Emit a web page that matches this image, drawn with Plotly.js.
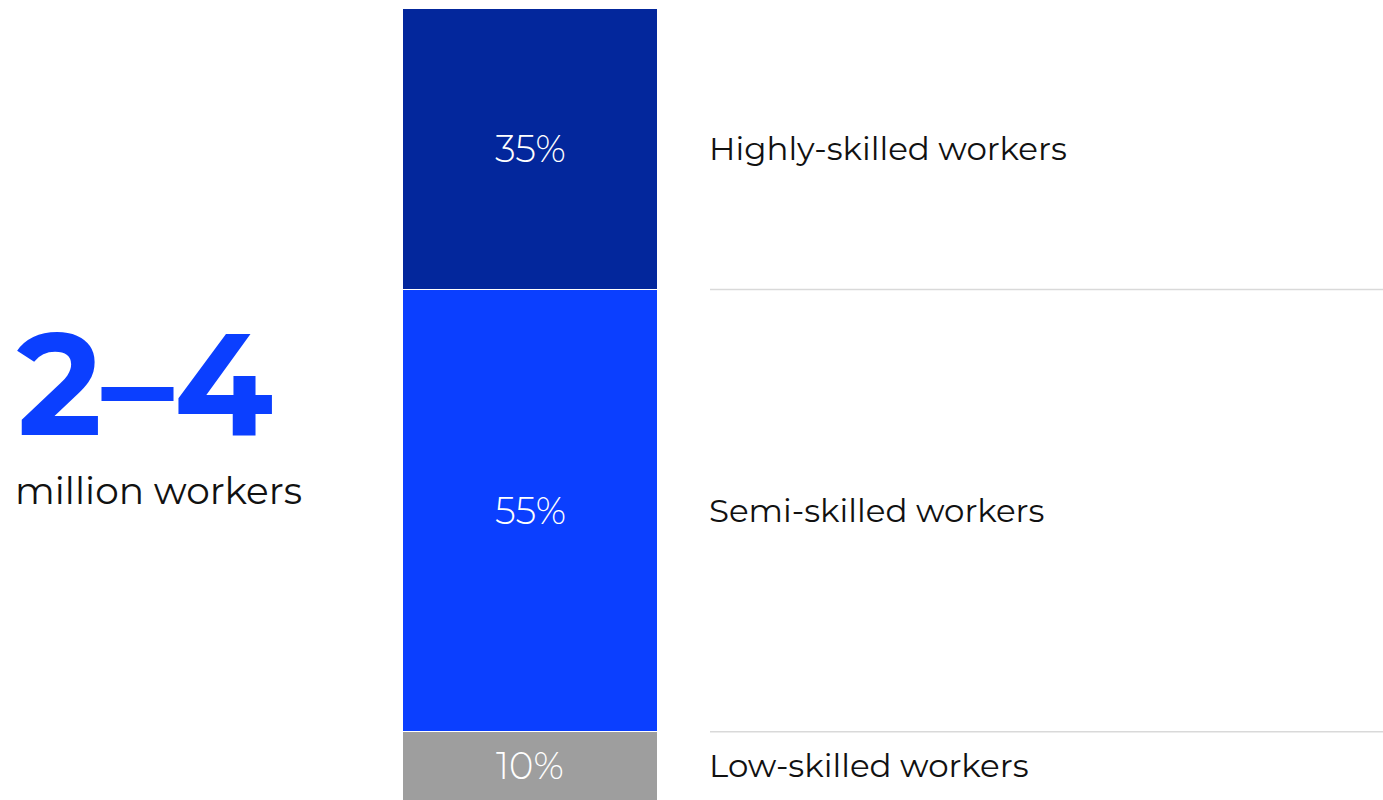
<!DOCTYPE html>
<html>
<head>
<meta charset="utf-8">
<script src="https://cdn.plot.ly/plotly-3.0.1.min.js"></script>
<style>html,body{margin:0;padding:0;background:#fff;overflow:hidden}</style>
</head>
<body>
<div id="chart" style="width:1383px;height:800px"></div>
<script>
// Data (bottom to top)
const categories = ["Low-skilled workers", "Semi-skilled workers", "Highly-skilled workers"];
const shares = [10, 55, 35];
const shareLabels = ["10%", "55%", "35%"];
const colors = ["#9e9e9e", "#0b3fff", "#03279c"];
const headline = "2–4";
const headlineSub = "million workers";

const W = 1383, H = 800;
const barLeft = 402, barRight = 658, plotTop = 8;
const yMin = 1.5, yMax = 100;
const FONT = "Montserrat, 'Open Sans', 'Noto Sans', sans-serif";

const px = p => (p - barLeft) / (barRight - barLeft);
const py = p => (H - p) / (H - plotTop);

const traces = categories.map((c, i) => ({
  type: "bar",
  x: ["all"],
  y: [shares[i]],
  name: c,
  marker: { color: colors[i], line: { color: "#ffffff", width: 1.2 } },
  hoverinfo: "skip",
  showlegend: false
}));

const annotations = [];
const shapes = [];
let base = 0;
shares.forEach((v, i) => {
  const lo = Math.max(base, yMin), hi = Math.min(base + v, yMax);
  const mid = (lo + hi) / 2;
  annotations.push({
    xref: "paper", yref: "y", x: 0.5, y: mid, xanchor: "center", yanchor: "middle",
    text: shareLabels[i], showarrow: false,
    font: { family: FONT, size: 37, color: "#ffffff", weight: 300 }
  });
  annotations.push({
    xref: "paper", yref: "y", x: px(707), y: mid, xanchor: "left", yanchor: "middle",
    text: categories[i], showarrow: false,
    font: { family: FONT, size: 32.5, color: "#111111" }
  });
  base += v;
  if (i < shares.length - 1) {
    shapes.push({
      type: "line", xref: "paper", yref: "y", x0: px(710), x1: px(W), y0: base, y1: base,
      line: { color: "#d9d9d9", width: 1.5 }
    });
  }
});

annotations.push({
  xref: "paper", yref: "paper", x: px(15), y: py(384), xanchor: "left", yanchor: "middle",
  text: "<b>" + headline + "</b>", showarrow: false,
  font: { family: FONT, size: 144, color: "#0b3fff", weight: 800 }
});
annotations.push({
  xref: "paper", yref: "paper", x: px(13), y: py(490), xanchor: "left", yanchor: "middle",
  text: headlineSub, showarrow: false,
  font: { family: FONT, size: 37.5, color: "#111111" }
});

const layout = {
  width: W, height: H,
  margin: { l: barLeft, r: W - barRight, t: plotTop, b: 0, pad: 0 },
  paper_bgcolor: "#ffffff", plot_bgcolor: "#ffffff",
  barmode: "stack", bargap: 0,
  xaxis: { visible: false, fixedrange: true },
  yaxis: { visible: false, range: [yMin, yMax], fixedrange: true },
  annotations: annotations,
  shapes: shapes,
  font: { family: FONT }
};

Plotly.newPlot("chart", traces, layout, { displayModeBar: false, staticPlot: true });
</script>
</body>
</html>
